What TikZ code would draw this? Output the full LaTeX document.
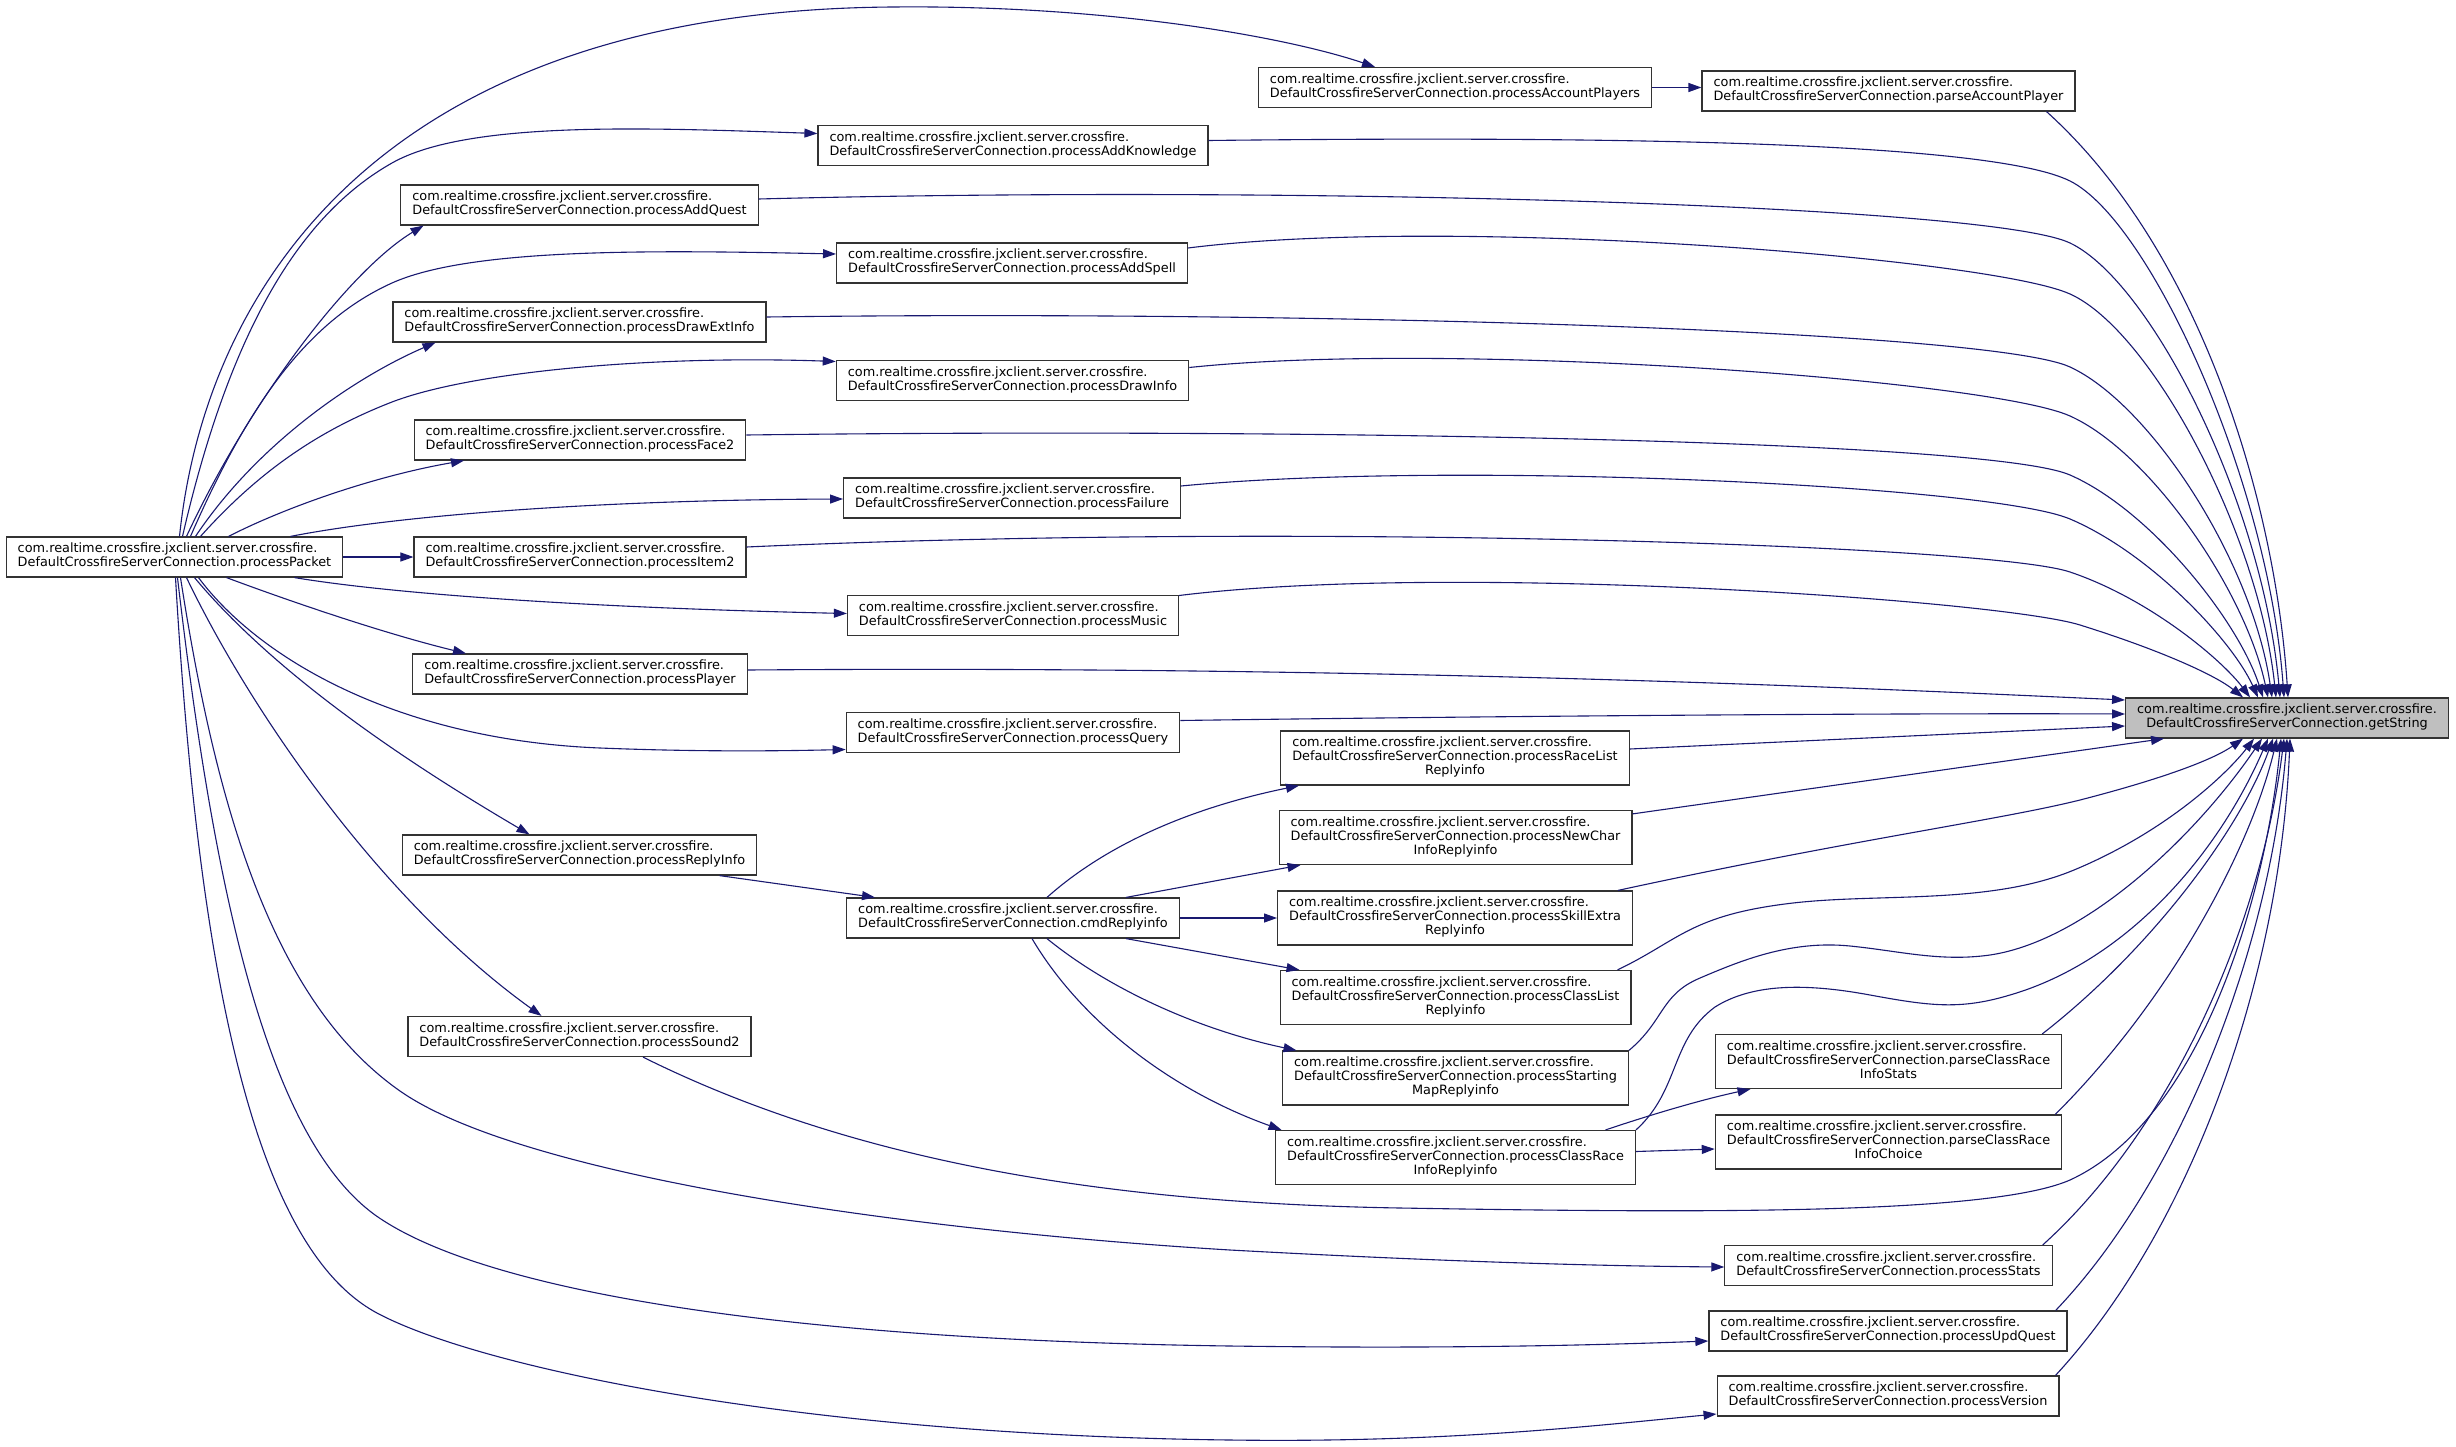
\documentclass[tikz,border=0pt]{standalone}
\usepackage{fontspec}
\setmainfont{DejaVu Sans}
\usepackage{xcolor}
\usepackage{tikz}
\usetikzlibrary{arrows.meta}

\definecolor{edgeblue}{RGB}{25,25,112}
\definecolor{curgray}{RGB}{191,191,191}
\newcommand{\pkgname}{com.realtime.crossfire.jxclient.server.crossfire.}
\newcommand{\clsname}{DefaultCrossfireServerConnection.}
\newcommand{\fnbox}[1]{\begin{tabular}{@{}l@{}}\pkgname\\\multicolumn{1}{@{}c@{}}{\clsname#1}\end{tabular}}
\newcommand{\fnboxiii}[2]{\begin{tabular}{@{}l@{}}\pkgname\\\clsname#1\\\multicolumn{1}{@{}c@{}}{#2}\end{tabular}}

\begin{document}
\begin{tikzpicture}[x=1pt,y=-1pt,
    fnode/.style={draw=black!80,line width=1.2pt,fill=white,inner xsep=11.5pt,inner ysep=6pt,font=\fontsize{12.85}{14}\selectfont},
    curnode/.style={fnode,fill=curgray},
    call/.style={draw=edgeblue,line width=1.1pt,-{Triangle[length=13pt,width=9pt]}}]
    \fill[white] (0,0) rectangle (2456,1447);

    \node[fnode] (packet) at (174.5,557) {\fnbox{processPacket}};
    \node[fnode] (accPlayers) at (1455,87.5) {\fnbox{processAccountPlayers}};
    \node[fnode] (parseAccPlayer) at (1888.5,91) {\fnbox{parseAccountPlayer}};
    \node[fnode] (addKnowledge) at (1013,145.5) {\fnbox{processAddKnowledge}};
    \node[fnode] (addQuest) at (579.5,205) {\fnbox{processAddQuest}};
    \node[fnode] (addSpell) at (1012,263) {\fnbox{processAddSpell}};
    \node[fnode] (drawExtInfo) at (579.5,322) {\fnbox{processDrawExtInfo}};
    \node[fnode] (drawInfo) at (1012.5,380.5) {\fnbox{processDrawInfo}};
    \node[fnode] (face2) at (580,440) {\fnbox{processFace2}};
    \node[fnode] (failure) at (1012,498) {\fnbox{processFailure}};
    \node[fnode] (item2) at (580,557) {\fnbox{processItem2}};
    \node[fnode] (music) at (1013,615.5) {\fnbox{processMusic}};
    \node[fnode] (player) at (580,674) {\fnbox{processPlayer}};
    \node[fnode] (query) at (1013,732.5) {\fnbox{processQuery}};
    \node[curnode] (getStr) at (2287,718) {\fnbox{getString}};
    \node[fnode] (raceList) at (1455,758) {\fnboxiii{processRaceList}{Replyinfo}};
    \node[fnode] (newChar) at (1455.5,837.5) {\fnboxiii{processNewChar}{InfoReplyinfo}};
    \node[fnode] (skillExtra) at (1455,918) {\fnboxiii{processSkillExtra}{Replyinfo}};
    \node[fnode] (classList) at (1455.5,997.5) {\fnboxiii{processClassList}{Replyinfo}};
    \node[fnode] (startingMap) at (1455.5,1078) {\fnboxiii{processStarting}{MapReplyinfo}};
    \node[fnode] (classRaceInfo) at (1455.5,1157.5) {\fnboxiii{processClassRace}{InfoReplyinfo}};
    \node[fnode] (parseStats) at (1888.5,1061.5) {\fnboxiii{parseClassRace}{InfoStats}};
    \node[fnode] (parseChoice) at (1888.5,1142) {\fnboxiii{parseClassRace}{InfoChoice}};
    \node[fnode] (replyInfo) at (579.5,855) {\fnbox{processReplyInfo}};
    \node[fnode] (cmd) at (1013,918) {\fnbox{cmdReplyinfo}};
    \node[fnode] (sound2) at (579.5,1036.5) {\fnbox{processSound2}};
    \node[fnode] (stats) at (1888.5,1265.5) {\fnbox{processStats}};
    \node[fnode] (updQuest) at (1888,1331) {\fnbox{processUpdQuest}};
    \node[fnode] (version) at (1888,1396) {\fnbox{processVersion}};

    \draw[call] ([xshift=5pt]packet.north) .. controls (205,290) and (380,10) .. (894,7) .. controls (1100,5) and (1280,35) .. ([xshift=-80pt]accPlayers.north);
    \draw[call] ([xshift=8pt]packet.north) .. controls (230,330) and (300,215) .. (392,163) .. controls (468,120) and (650,128) .. ([yshift=12pt]addKnowledge.west);
    \draw[call] ([xshift=12pt]packet.north) .. controls (250,400) and (350,270) .. ([xshift=-156pt]addQuest.south);
    \draw[call] ([xshift=16pt]packet.north) .. controls (250,400) and (310,320) .. (392,283) .. controls (470,248) and (650,250) .. ([yshift=9pt]addSpell.west);
    \draw[call] ([xshift=21pt]packet.north) .. controls (260,440) and (360,375) .. ([xshift=-144pt]drawExtInfo.south);
    \draw[call] ([xshift=26pt]packet.north) .. controls (260,470) and (320,430) .. (392,402) .. controls (470,372) and (650,355) .. ([yshift=19pt]drawInfo.west);
    \draw[call] ([xshift=54pt]packet.north) .. controls (290,505) and (380,475) .. ([xshift=-116pt]face2.south);
    \draw[call] ([xshift=116pt]packet.north) .. controls (400,515) and (600,500) .. ([yshift=-1pt]failure.west);
    \draw[call] (packet.east) -- (item2.west);
    \draw[call] ([xshift=120pt]packet.south) .. controls (400,595) and (600,608) .. ([yshift=2pt]music.west);
    \draw[call] ([xshift=52pt]packet.south) .. controls (300,605) and (390,635) .. ([xshift=-114pt]player.north);
    \draw[call] ([xshift=24pt]packet.south) .. controls (260,660) and (400,740) .. (600,748) .. controls (700,752) and (780,751) .. ([yshift=-17pt]query.west);
    \draw[call] ([xshift=20pt]packet.south) .. controls (280,680) and (420,770) .. ([xshift=-50pt]replyInfo.north);
    \draw[call] ([xshift=12pt]packet.south) .. controls (250,710) and (380,900) .. ([xshift=-38pt]sound2.north);
    \draw[call] ([xshift=6pt]packet.south) .. controls (215,800) and (270,1000) .. (400,1091) .. controls (520,1175) and (900,1230) .. (1230,1250) .. controls (1450,1262) and (1600,1266) .. ([yshift=-1.5pt]stats.west);
    \draw[call] ([xshift=3pt]packet.south) .. controls (215,900) and (270,1150) .. (384,1221) .. controls (500,1295) and (800,1340) .. (1230,1346) .. controls (1450,1349) and (1600,1345) .. ([yshift=-10pt]updQuest.west);
    \draw[call] ([xshift=1pt]packet.south) .. controls (200,1000) and (260,1250) .. (377,1313) .. controls (480,1368) and (800,1435) .. (1230,1440) .. controls (1450,1443) and (1600,1425) .. ([yshift=-18pt]version.west);

    \draw[call] (accPlayers.east) -- (accPlayers.east -| parseAccPlayer.west);
    \draw[call] ([xshift=140pt]replyInfo.south) -- ([xshift=-138pt]cmd.north);
    \draw[call] ([xshift=34pt]cmd.north) .. controls (1100,850) and (1180,810) .. ([xshift=-156pt]raceList.south);
    \draw[call] ([xshift=113pt]cmd.north) -- ([xshift=-155pt]newChar.south);
    \draw[call] (cmd.east) -- (skillExtra.west);
    \draw[call] ([xshift=113pt]cmd.south) -- ([xshift=-156pt]classList.north);
    \draw[call] ([xshift=34pt]cmd.south) .. controls (1110,990) and (1200,1030) .. ([xshift=-159pt]startingMap.north);
    \draw[call] ([xshift=19pt]cmd.south) .. controls (1080,1020) and (1170,1090) .. ([xshift=-174pt]classRaceInfo.north);
    \draw[call] ([xshift=150pt]classRaceInfo.north) .. controls (1650,1115) and (1700,1100) .. ([xshift=-138pt]parseStats.south);
    \draw[call] ([yshift=6pt]classRaceInfo.east) -- ([yshift=-7pt]parseChoice.west);

    \draw[call] ([xshift=158pt]parseAccPlayer.south) .. controls (2200,250) and (2275,500) .. ([xshift=1pt]getStr.north);
    \draw[call] ([yshift=5pt]addKnowledge.east) .. controls (1600,136) and (1990,141) .. (2070,181) .. controls (2150,221) and (2268,480) .. ([xshift=-3pt]getStr.north);
    \draw[call] ([yshift=6pt]addQuest.east) .. controls (1300,185) and (1990,205) .. (2070,243) .. controls (2150,281) and (2262,500) .. ([xshift=-7pt]getStr.north);
    \draw[call] ([yshift=15pt]addSpell.east) .. controls (1450,215) and (1990,258) .. (2070,294) .. controls (2150,330) and (2258,530) .. ([xshift=-11pt]getStr.north);
    \draw[call] ([yshift=5pt]drawExtInfo.east) .. controls (1300,310) and (1990,330) .. (2070,367) .. controls (2150,404) and (2252,560) .. ([xshift=-15pt]getStr.north);
    \draw[call] ([yshift=13pt]drawInfo.east) .. controls (1450,340) and (1990,380) .. (2070,416) .. controls (2150,452) and (2245,590) .. ([xshift=-19pt]getStr.north);
    \draw[call] ([yshift=5pt]face2.east) .. controls (1300,428) and (1990,440) .. (2070,475) .. controls (2150,510) and (2238,620) .. ([xshift=-24pt]getStr.north);
    \draw[call] ([yshift=12pt]failure.east) .. controls (1450,460) and (1990,485) .. (2070,519) .. controls (2150,553) and (2232,640) .. ([xshift=-29pt]getStr.north);
    \draw[call] ([yshift=10pt]item2.east) .. controls (1300,522) and (1990,545) .. (2070,572) .. controls (2150,599) and (2222,660) .. ([xshift=-37pt]getStr.north);
    \draw[call] ([yshift=20pt]music.east) .. controls (1450,562) and (2000,600) .. (2080,625) .. controls (2160,650) and (2215,675) .. ([xshift=-44pt]getStr.north);
    \draw[call] ([yshift=4pt]player.east) .. controls (1400,665) and (1900,690) .. ([yshift=18pt]getStr.west);
    \draw[call] ([yshift=12pt]query.east) .. controls (1500,716) and (1900,713) .. ([yshift=4pt]getStr.west);
    \draw[call] ([yshift=9pt]raceList.east) -- ([yshift=-8pt]getStr.west);
    \draw[call] ([yshift=-4pt]newChar.north east) -- ([xshift=-123pt]getStr.south);
    \draw[call] ([xshift=-15pt]skillExtra.north east) .. controls (1850,840) and (2000,820) .. (2080,800) .. controls (2150,782) and (2210,762) .. ([xshift=-44pt]getStr.south);
    \draw[call] ([xshift=-14pt]classList.north east) .. controls (1680,940) and (1690,915) .. (1793,903) .. controls (1880,893) and (1990,905) .. (2074,870) .. controls (2170,830) and (2230,770) .. ([xshift=-33pt]getStr.south);
    \draw[call] (startingMap.north east) .. controls (1665,1020) and (1660,995) .. (1700,978) .. controls (1740,961) and (1790,940) .. (1850,946) .. controls (1900,951) and (1940,962) .. (1990,955) .. controls (2090,940) and (2200,830) .. ([xshift=-25pt]getStr.south);
    \draw[call] (classRaceInfo.north east) .. controls (1680,1090) and (1670,1040) .. (1715,1007) .. controls (1750,985) and (1800,982) .. (1870,995) .. controls (1930,1006) and (1960,1010) .. (2010,995) .. controls (2130,960) and (2220,850) .. ([xshift=-19pt]getStr.south);
    \draw[call] ([xshift=-20pt]parseStats.north east) .. controls (2150,950) and (2240,830) .. ([xshift=-14pt]getStr.south);
    \draw[call] ([xshift=-7pt]parseChoice.north east) .. controls (2170,1000) and (2250,850) .. ([xshift=-10pt]getStr.south);
    \draw[call] ([xshift=63.5pt]sound2.south) .. controls (850,1160) and (1100,1203) .. (1400,1208) .. controls (1700,1213) and (1990,1215) .. (2070,1180) .. controls (2200,1120) and (2265,900) .. ([xshift=-6pt]getStr.south);
    \draw[call] ([xshift=-10pt]stats.north east) .. controls (2170,1130) and (2260,930) .. ([xshift=-3pt]getStr.south);
    \draw[call] ([xshift=-12pt]updQuest.north east) .. controls (2180,1180) and (2270,950) .. (getStr.south);
    \draw[call] ([xshift=-4pt]version.north east) .. controls (2190,1230) and (2280,980) .. ([xshift=3pt]getStr.south);
\end{tikzpicture}
\end{document}
